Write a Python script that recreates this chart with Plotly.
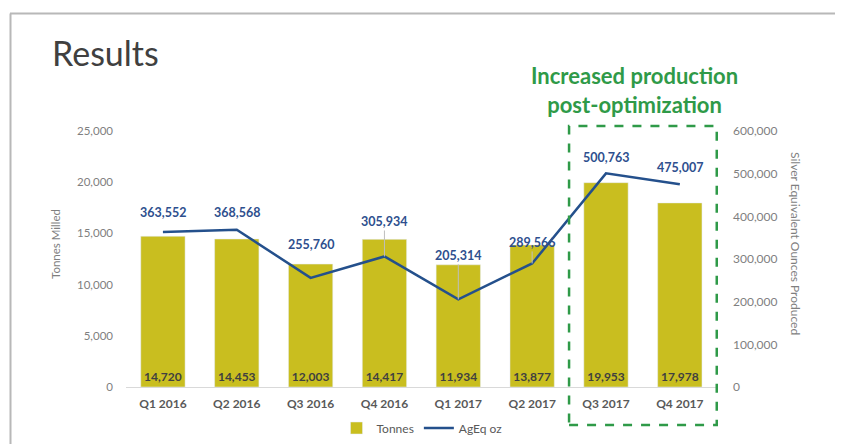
import plotly.graph_objects as go

quarters = ["Q1 2016", "Q2 2016", "Q3 2016", "Q4 2016", "Q1 2017", "Q2 2017", "Q3 2017", "Q4 2017"]
tonnes = [14720, 14453, 12003, 14417, 11934, 13877, 19953, 17978]
ageq_oz = [363552, 368568, 255760, 305934, 205314, 289566, 500763, 475007]

# label offsets (px above point) and whether a leader line is drawn
label_offset = [-19, -17, -33, -35, -44, -21, -16, -17]
leader = [False, False, False, True, True, True, False, False]

# the page puts the figure 8px in from the top-left corner of the window
OFF = 8
W, H = 843 - OFF, 444 - OFF
# plot area in window pixels: x 126..718, y 131..387
L, T = 126 - OFF, 131 - OFF
PW, PH = 592, 256
R, B = W - L - PW, H - T - PH


def px(x):
    return (x - 126) / PW


def py(y):
    return (387 - y) / PH


BAR = "#C9BE1F"
LINE = "#24508C"
GREEN = "#2F9A48"
FONT = "Lato, Open Sans, sans-serif"

fig = go.Figure()
fig.add_trace(go.Bar(
    x=quarters, y=tonnes, name="Tonnes",
    marker_color=BAR, width=0.6,
    text=[f"{v:,}" for v in tonnes],
    textposition="inside", insidetextanchor="start", textangle=0, constraintext="none",
    textfont=dict(size=12, color="#404040", family=FONT, weight="bold"),
    cliponaxis=False,
))
fig.add_trace(go.Scatter(
    x=quarters, y=ageq_oz, name="AgEq oz", yaxis="y2",
    mode="lines", line=dict(color=LINE, width=2.5),
))

for q, v, off, ld in zip(quarters, ageq_oz, label_offset, leader):
    fig.add_annotation(
        x=q, y=v, yref="y2", text=f"<b>{v:,}</b>",
        showarrow=True, arrowhead=0, arrowwidth=1,
        arrowcolor="#BFBFBF" if ld else "rgba(0,0,0,0)",
        ax=0, ay=off, standoff=0,
        font=dict(size=12.5, color="#2E4F8E", family=FONT),
    )

# title
fig.add_annotation(
    xref="paper", yref="paper", x=px(50), y=py(52), xanchor="left", yanchor="middle",
    text="Results", showarrow=False, font=dict(size=34, color="#404040", family=FONT),
)
# highlight text
fig.add_annotation(
    xref="paper", yref="paper", x=px(634), y=py(90), xanchor="center", yanchor="middle",
    text="<b>Increased production<br>post-optimization</b>", showarrow=False,
    font=dict(size=22, color=GREEN, family=FONT),
)
# axis titles
fig.add_annotation(
    xref="paper", yref="paper", x=px(55), y=py(244), xanchor="center", yanchor="middle",
    textangle=-90, showarrow=False,
    text="Tonnes Milled", font=dict(size=11.5, color="#7F7F7F", family=FONT),
)
fig.add_annotation(
    xref="paper", yref="paper", x=px(796), y=py(243), xanchor="center", yanchor="middle",
    textangle=90, showarrow=False,
    text="Silver Equivalent Ounces Produced", font=dict(size=12, color="#7F7F7F", family=FONT),
)

# dashed highlight box
fig.add_shape(
    type="rect", xref="x", yref="paper", x0=5.5, x1=7.5, y0=py(425), y1=py(126),
    line=dict(color=GREEN, width=2.5, dash="dash"),
)
# slide border
fig.add_shape(type="line", xref="paper", yref="paper", x0=px(10), x1=px(842), y0=py(13.5), y1=py(13.5),
              line=dict(color="#B8B8B8", width=2))
fig.add_shape(type="line", xref="paper", yref="paper", x0=px(10.5), x1=px(10.5), y0=py(13.5), y1=py(460),
              line=dict(color="#B8B8B8", width=2))

fig.update_layout(
    width=W, height=H,
    margin=dict(l=L, r=R, t=T, b=B, autoexpand=False),
    paper_bgcolor="white", plot_bgcolor="white",
    font=dict(family=FONT, color="#7F7F7F", size=11),
    bargap=0.4,
    showlegend=True,
    legend=dict(orientation="h", x=0.5, xanchor="center", y=py(428), yanchor="middle",
                font=dict(size=12, color="#595959"), itemwidth=30, tracegroupgap=0),
    xaxis=dict(
        showgrid=False, showline=True, linecolor="#D9D9D9", linewidth=1, ticks="",
        tickfont=dict(size=12, color="#595959", family=FONT, weight="bold"),
        ticklabelstandoff=6, automargin=False,
    ),
    yaxis=dict(
        range=[0, 25000], dtick=5000, tickformat=",", showgrid=False, zeroline=False,
        showline=False, ticks="", ticklabelstandoff=12, automargin=False,
        tickfont=dict(size=11.5, color="#7F7F7F"),
    ),
    yaxis2=dict(
        range=[0, 600000], dtick=100000, tickformat=",", overlaying="y", side="right",
        showgrid=False, zeroline=False, showline=False, ticks="", ticklabelstandoff=14,
        automargin=False, tickfont=dict(size=12, color="#7F7F7F"),
    ),
)

fig.write_html("out.html")
